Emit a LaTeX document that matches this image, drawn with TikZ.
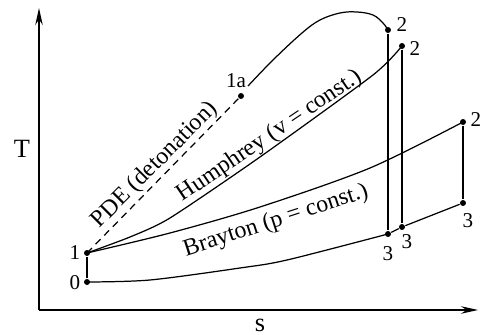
\documentclass[tikz,border=0pt]{standalone}
\usepackage{fontspec}
\setmainfont{Liberation Serif}
\usepackage{tikz}
\usetikzlibrary{positioning, calc, arrows.meta}

\begin{document}
\begin{tikzpicture}[line width=0.7pt, font=\fontsize{12}{14}\selectfont,
        dot/.style={circle, fill, inner sep=0pt, minimum size=3.4pt},
        axis/.style={line width=0.9pt, -{Stealth[length=3.4mm,width=1.5mm]}},
        axislabel/.style={font=\fontsize{15}{17}\selectfont},
        cyclename/.style={font=\fontsize{13.6}{15}\selectfont, inner sep=0pt}]

        \useasboundingbox (0,0) rectangle (9.6,6.7);

        % axes
        \coordinate (O) at (0.78,0.50);
        \coordinate (Ttip) at (0.78,6.54);
        \coordinate (stip) at (9.56,0.50);
        \draw[axis] (O) -- (Ttip);
        \draw[axis] (O) -- (stip);
        \node[axislabel] (Tlab) at (0.44,3.72) {T};
        \node[axislabel] (slab) at (5.20,0.20) {s};

        % state points
        \node[dot] (p0) at (1.74,1.06) {};
        \node[dot] (p1) at (1.74,1.64) {};
        \node[dot] (p1a) at (4.82,4.78) {};
        \node[dot] (p2d) at (7.76,6.10) {};
        \node[dot] (p3d) at (7.76,2.02) {};
        \node[dot] (p2h) at (8.04,5.78) {};
        \node[dot] (p3h) at (8.04,2.16) {};
        \node[dot] (p2b) at (9.26,4.26) {};
        \node[dot] (p3b) at (9.26,2.64) {};
        \coordinate (c1a) at (4.96,4.98);

        % point labels
        \node (l0) at (1.50,1.04) {0};
        \node (l1) at (1.50,1.64) {1};
        \node (l1a) at (4.72,5.08) {1a};
        \node (l2d) at (8.04,6.20) {2};
        \node (l2h) at (8.30,5.72) {2};
        \node (l2b) at (9.52,4.30) {2};
        \node (l3d) at (7.76,1.62) {3};
        \node (l3h) at (8.14,1.86) {3};
        \node (l3b) at (9.36,2.28) {3};

        % compression 0-1
        \draw (p0) -- (p1);

        % PDE (detonation)
        \draw[dash pattern=on 4pt off 3pt] (p1.center) -- (p1a.center);
        \draw plot[smooth, tension=0.6] coordinates {(c1a) (5.46,5.50)
            (6.04,6.04) (6.40,6.30) (6.80,6.44) (7.14,6.46) (7.46,6.40) (7.66,6.24) (p2d.center)};
        \draw (p2d) -- (p3d);

        % Humphrey (v = const.)
        \draw plot[smooth, tension=0.4] coordinates {(p1.center) (2.60,1.96) (3.40,2.34)
            (5.20,3.56) (7.46,5.20) (p2h.center)};
        \draw (p2h) -- (p3h);

        % Brayton (p = const.)
        \draw plot[smooth, tension=0.5] coordinates {(p1.center) (3.40,2.04) (5.20,2.56)
            (7.40,3.34) (p2b.center)};
        \draw (p2b) -- (p3b);

        % heat rejection
        \draw plot[smooth, tension=0.5] coordinates {(p0.center) (3.00,1.10) (4.80,1.34)
            (5.74,1.50) (p3d.center)};
        \draw (p3d) -- (p3h) -- (p3b);

        % cycle names
        \node[cyclename, rotate=45] (tpde) at (3.10,3.40) {PDE (detonation)};
        \node[cyclename, rotate=34] (thum) at (5.40,3.98) {Humphrey (v = const.)};
        \node[cyclename, rotate=18] (tbra) at (5.52,2.28) {Brayton (p = const.)};

    \end{tikzpicture}
\end{document}
